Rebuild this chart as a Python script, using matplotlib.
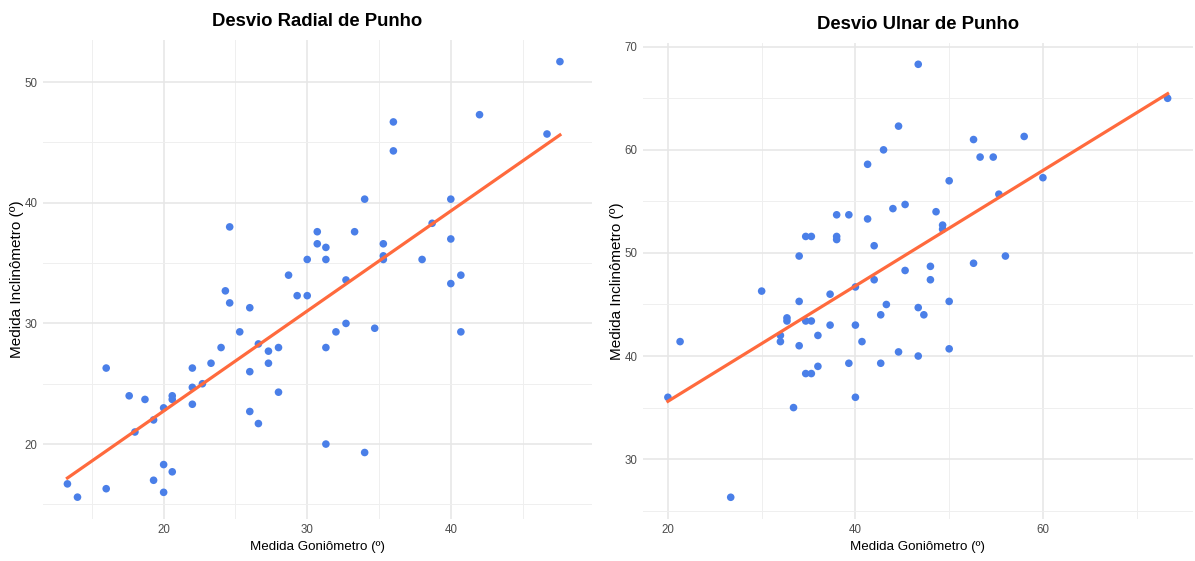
import matplotlib
matplotlib.use("Agg")
import matplotlib.pyplot as plt
import numpy as np

# Desvio radial: goniometro (x) vs inclinometro (y)
radial_gonio = [47.6, 42.0, 46.7, 36.0, 36.0, 34.0, 40.0, 24.6, 30.7, 33.3,
                30.7, 31.3, 35.3, 35.3, 35.3, 30.0, 31.3, 38.0, 38.7, 40.0,
                28.7, 40.7, 32.7, 40.0, 24.3, 24.6, 26.0, 29.3, 30.0, 32.7,
                32.0, 34.7, 40.7, 25.3, 26.6, 24.0, 27.3, 28.0, 31.3, 23.3,
                27.3, 22.0, 16.0, 26.0, 22.7, 22.0, 28.0, 17.6, 18.7, 20.6,
                20.6, 20.0, 22.0, 19.3, 26.0, 26.6, 18.0, 31.3, 34.0, 20.0,
                20.6, 19.3, 13.3, 16.0, 20.0, 14.0]
radial_incl = [51.7, 47.3, 45.7, 46.7, 44.3, 40.3, 40.3, 38.0, 37.6, 37.6,
               36.6, 36.3, 36.6, 35.6, 35.3, 35.3, 35.3, 35.3, 38.3, 37.0,
               34.0, 34.0, 33.6, 33.3, 32.7, 31.7, 31.3, 32.3, 32.3, 30.0,
               29.3, 29.6, 29.3, 29.3, 28.3, 28.0, 27.7, 28.0, 28.0, 26.7,
               26.7, 26.3, 26.3, 26.0, 25.0, 24.7, 24.3, 24.0, 23.7, 24.0,
               23.7, 23.0, 23.3, 22.0, 22.7, 21.7, 21.0, 20.0, 19.3, 18.3,
               17.7, 17.0, 16.7, 16.3, 16.0, 15.6]

# Desvio ulnar
ulnar_gonio = [46.7, 73.3, 44.6, 43.0, 41.3, 52.6, 53.3, 54.7, 58.0, 60.0,
               50.0, 55.3, 44.0, 45.3, 48.6, 38.0, 39.3, 41.3, 49.3, 49.3,
               34.7, 35.3, 38.0, 38.0, 42.0, 34.0, 56.0, 52.6, 48.0, 45.3,
               42.0, 48.0, 30.0, 37.3, 40.0, 34.0, 50.0, 43.3, 46.7, 42.7,
               47.3, 32.7, 32.7, 34.7, 35.3, 37.3, 40.0, 36.0, 32.0, 32.0,
               21.3, 40.7, 34.0, 50.0, 44.6, 46.7, 39.3, 42.7, 36.0, 34.7,
               35.3, 20.0, 40.0, 33.4, 26.7]
ulnar_incl = [68.3, 65.0, 62.3, 60.0, 58.6, 61.0, 59.3, 59.3, 61.3, 57.3,
              57.0, 55.7, 54.3, 54.7, 54.0, 53.7, 53.7, 53.3, 52.7, 52.3,
              51.6, 51.6, 51.6, 51.3, 50.7, 49.7, 49.7, 49.0, 48.7, 48.3,
              47.4, 47.4, 46.3, 46.0, 46.7, 45.3, 45.3, 45.0, 44.7, 44.0,
              44.0, 43.7, 43.4, 43.4, 43.4, 43.0, 43.0, 42.0, 42.0, 41.4,
              41.4, 41.4, 41.0, 40.7, 40.4, 40.0, 39.3, 39.3, 39.0, 38.3,
              38.3, 36.0, 36.0, 35.0, 26.3]

titles = ["Desvio Radial de Punho", "Desvio Ulnar de Punho"]
x_label = "Medida Goniômetro (º)"
y_label = "Medida Inclinômetro (º)"

point_color = "#4A7FE8"
line_color = "#FF6A3D"
sans = ["Liberation Sans", "DejaVu Sans"]

fig = plt.figure(figsize=(11.95, 5.61), dpi=100)
ax1 = fig.add_axes([0.036, 0.075, 0.459, 0.854])
ax2 = fig.add_axes([0.538, 0.075, 0.460, 0.849])


def panel(ax, xs, ys, title, xmaj, xmin_, ymaj, ymin_, xlim=None):
    xs = np.array(xs)
    ys = np.array(ys)
    ax.scatter(xs, ys, s=30, color=point_color, edgecolors="none", zorder=3)
    b, a = np.polyfit(xs, ys, 1)
    lx = np.array([xs.min(), xs.max()])
    ax.plot(lx, a + b * lx, color=line_color, lw=2.3, zorder=4)
    xr = xs.max() - xs.min()
    yr = ys.max() - ys.min()
    if xlim is None:
        xlim = (xs.min() - 0.05 * xr, xs.max() + 0.05 * xr)
    ax.set_xlim(*xlim)
    ax.set_ylim(ys.min() - 0.05 * yr, ys.max() + 0.05 * yr)
    ax.set_xticks(xmaj)
    ax.set_xticks(xmin_, minor=True)
    ax.set_yticks(ymaj)
    ax.set_yticks(ymin_, minor=True)
    ax.grid(True, which="major", color="#e6e6e6", lw=1.1)
    ax.grid(True, which="minor", color="#efefef", lw=0.7)
    ax.set_axisbelow(True)
    for s in ax.spines.values():
        s.set_visible(False)
    ax.tick_params(which="both", length=0, colors="#4d4d4d", labelsize=8.3, pad=4)
    for lab in ax.get_xticklabels() + ax.get_yticklabels():
        lab.set_fontfamily(sans)
    ax.set_title(title, fontsize=13.3, fontweight="bold", family=sans, pad=10)
    ax.set_xlabel(x_label, fontsize=9.6, family=sans, labelpad=3)
    ax.set_ylabel(y_label, fontsize=11, family=sans, labelpad=0)


panel(ax1, radial_gonio, radial_incl, titles[0],
      [20, 30, 40], [15, 25, 35, 45], [20, 30, 40, 50], [15, 25, 35, 45],
      xlim=(11.6, 49.8))
panel(ax2, ulnar_gonio, ulnar_incl, titles[1],
      [20, 40, 60], [30, 50, 70], [30, 40, 50, 60, 70], [25, 35, 45, 55, 65])

fig.savefig("out.png", dpi=100)
